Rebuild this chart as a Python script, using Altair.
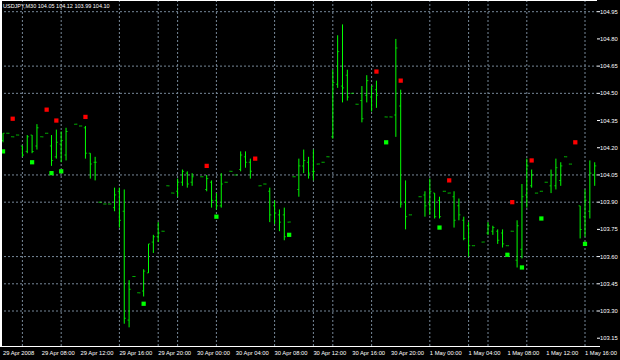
import altair as alt
import pandas as pd

# ---- OHLC bars (bar index, open, high, low, close) ----
bar_index = [0, 1, 2, 3, 4, 5, 6, 7, 8, 9, 10, 11, 12, 13, 15, 16, 17, 18, 19,
             20, 21, 22, 23, 24, 25, 26, 27, 28, 29, 30, 31, 32, 33, 34, 35, 36, 37, 38, 39,
             41, 42, 43, 44, 45, 46, 47, 48, 49, 50, 51, 53, 54, 55, 56, 57, 58, 59,
             60, 61, 62, 63, 64, 65, 66, 67, 68, 69, 70, 71, 72, 73, 74, 75, 76, 77, 79,
             80, 81, 82, 83, 84, 86, 87, 88, 89, 90, 91, 92, 93, 94, 95, 96, 97, 99,
             100, 101, 102, 103, 104, 105, 106, 107, 108, 109, 110, 111, 112, 113, 114, 115, 116, 117, 119,
             120, 121, 122]
bar_open = [104.24, 104.28, 104.26, 104.27, 104.21, 104.18, 104.27, 104.21, 104.26, 104.28, 104.21, 104.15, 104.22, 104.16, 104.33, 104.32, 104.31, 104.17, 104.12,
            103.90, 103.89, 103.89, 103.87, 103.96, 103.85, 103.25, 103.49, 103.40, 103.41, 103.51, 103.68, 103.71, 103.74, 103.99, 103.95, 103.96, 104.01, 104.06, 104.01,
            104.04, 103.97, 104.01, 103.91, 103.88, 104.01, 104.07, 104.05, 104.08, 104.15, 104.12, 103.99, 104.00, 103.96, 103.88, 103.83, 103.83, 103.79,
            104.04, 103.97, 104.10, 104.12, 104.07, 104.11, 104.12, 104.15, 104.26, 104.55, 104.54, 104.60, 104.50, 104.44, 104.46, 104.49, 104.48, 104.52, 104.37,
            104.37, 104.38, 104.43, 103.90, 103.83, 103.93, 103.94, 103.89, 103.95, 103.91, 103.96, 103.95, 103.93, 103.88, 103.80, 103.77, 103.66, 103.68,
            103.73, 103.74, 103.74, 103.73, 103.66, 103.74, 103.58, 103.64, 103.94, 103.99, 103.95, 103.96, 104.01, 103.99, 103.99, 104.02, 104.15, 104.11, 103.88,
            103.82, 103.85, 104.05]
bar_high = [104.28, 104.28, 104.26, 104.27, 104.21, 104.27, 104.27, 104.33, 104.26, 104.28, 104.27, 104.30, 104.29, 104.31, 104.33, 104.32, 104.32, 104.17, 104.15,
            103.90, 103.89, 103.89, 103.98, 103.98, 103.97, 103.47, 103.49, 103.40, 103.53, 103.67, 103.72, 103.79, 103.74, 103.99, 103.95, 104.03, 104.08, 104.07, 104.06,
            104.04, 104.05, 104.02, 103.95, 104.06, 104.01, 104.07, 104.05, 104.18, 104.18, 104.14, 103.99, 104.00, 103.98, 103.91, 103.86, 103.87, 103.79,
            104.04, 104.14, 104.19, 104.15, 104.19, 104.11, 104.12, 104.15, 104.63, 104.82, 104.88, 104.63, 104.50, 104.44, 104.54, 104.60, 104.54, 104.57, 104.37,
            104.37, 104.80, 104.52, 104.02, 103.83, 103.93, 103.96, 104.03, 103.95, 103.93, 103.96, 103.95, 103.96, 103.92, 103.82, 103.79, 103.66, 103.68,
            103.79, 103.77, 103.75, 103.75, 103.66, 103.74, 103.80, 104.00, 104.14, 104.08, 103.95, 103.96, 104.01, 104.08, 104.14, 104.12, 104.15, 104.11, 103.88,
            103.97, 104.13, 104.12]
bar_low = [104.23, 104.28, 104.26, 104.27, 104.15, 104.17, 104.17, 104.19, 104.26, 104.28, 104.10, 104.14, 104.12, 104.13, 104.33, 104.32, 104.14, 104.03, 104.02,
           103.90, 103.89, 103.89, 103.85, 103.76, 103.23, 103.21, 103.49, 103.40, 103.38, 103.51, 103.62, 103.68, 103.74, 103.99, 103.95, 103.93, 103.99, 103.98, 103.99,
           104.04, 103.96, 103.87, 103.86, 103.87, 104.01, 104.07, 104.05, 104.07, 104.09, 104.03, 103.99, 104.00, 103.79, 103.78, 103.74, 103.69, 103.79,
           104.04, 103.93, 104.06, 104.03, 104.02, 104.11, 104.12, 104.15, 104.25, 104.53, 104.45, 104.46, 104.50, 104.44, 104.34, 104.45, 104.40, 104.42, 104.37,
           104.37, 104.26, 103.87, 103.75, 103.83, 103.93, 103.82, 103.83, 103.81, 103.81, 103.96, 103.95, 103.76, 103.80, 103.69, 103.60, 103.66, 103.68,
           103.72, 103.72, 103.67, 103.65, 103.66, 103.74, 103.54, 103.59, 103.87, 103.98, 103.95, 103.96, 104.01, 103.95, 103.97, 103.99, 104.15, 104.11, 103.70,
           103.71, 103.81, 103.99]
bar_close = [104.28, 104.28, 104.26, 104.27, 104.16, 104.26, 104.18, 104.31, 104.26, 104.28, 104.13, 104.23, 104.24, 104.29, 104.33, 104.32, 104.17, 104.11, 104.12,
             103.90, 103.89, 103.89, 103.94, 103.80, 103.26, 103.42, 103.49, 103.40, 103.52, 103.67, 103.71, 103.73, 103.74, 103.99, 103.95, 104.01, 104.07, 104.00, 104.04,
             104.04, 104.03, 103.91, 103.88, 104.00, 104.01, 104.07, 104.05, 104.16, 104.12, 104.07, 103.99, 104.00, 103.83, 103.84, 103.79, 103.71, 103.79,
             104.04, 104.10, 104.13, 104.06, 104.07, 104.11, 104.12, 104.15, 104.56, 104.73, 104.53, 104.48, 104.50, 104.44, 104.36, 104.57, 104.54, 104.49, 104.37,
             104.37, 104.75, 103.89, 103.82, 103.83, 103.93, 103.88, 103.96, 103.82, 103.82, 103.96, 103.95, 103.80, 103.83, 103.70, 103.66, 103.66, 103.68,
             103.77, 103.76, 103.69, 103.67, 103.66, 103.74, 103.77, 103.93, 104.10, 104.05, 103.95, 103.96, 104.01, 104.05, 104.09, 104.10, 104.15, 104.11, 103.75,
             103.91, 104.06, 104.10]

# ---- fractal markers ----
up_index = [2, 9, 11, 17, 42, 52, 77, 82, 92, 105, 109, 118]
up_price = [104.36, 104.41, 104.35, 104.37, 104.10, 104.14, 104.62, 104.57, 104.02, 103.90, 104.13, 104.23]
down_index = [0, 6, 10, 12, 29, 44, 59, 79, 90, 104, 107, 111, 120]
down_price = [104.18, 104.12, 104.06, 104.07, 103.34, 103.82, 103.72, 104.23, 103.76, 103.61, 103.54, 103.81, 103.67]

# ---- axes / grid ----
price_labels = [104.95, 104.80, 104.65, 104.50, 104.35, 104.20, 104.05, 103.90, 103.75, 103.60, 103.45, 103.30, 103.15]
grid_prices = [104.95, 104.65, 104.50, 104.05, 103.90, 103.60, 103.45, 103.30]
grid_index = [4, 12, 24, 32, 36, 44, 56, 64, 68, 76, 88, 96, 100, 108, 120]
time_index = [0, 8, 16, 24, 32, 40, 48, 56, 64, 72, 80, 88, 96, 104, 112, 120]
time_labels = ["29 Apr 2008", "29 Apr 08:00", "29 Apr 12:00", "29 Apr 16:00", "29 Apr 20:00",
               "30 Apr 00:00", "30 Apr 04:00", "30 Apr 08:00", "30 Apr 12:00", "30 Apr 16:00",
               "30 Apr 20:00", "1 May 00:00", "1 May 04:00", "1 May 08:00", "1 May 12:00", "1 May 16:00"]
title_text = "USDJPY,M30  104.05 104.12 103.99 104.10"

W, H = 597, 346
FONT = "Liberation Sans"
GREEN = "#00FF00"
GRID = "#778899"

bars = pd.DataFrame({"i": bar_index, "open": bar_open, "high": bar_high,
                     "low": bar_low, "close": bar_close})
ups = pd.DataFrame({"i": up_index, "price": up_price})
downs = pd.DataFrame({"i": down_index, "price": down_price})
plabels = pd.DataFrame({"price": price_labels})
gprices = pd.DataFrame({"price": grid_prices})
gidx = pd.DataFrame({"i": grid_index})
tlabels = pd.DataFrame({"i": time_index, "label": time_labels})
tdf = pd.DataFrame({"t": [title_text]})

xs = alt.Scale(domain=[-0.6186, 122.474], nice=False, zero=False)
ys = alt.Scale(domain=[103.1071, 105.0145], nice=False, zero=False)

X = lambda f: alt.X(f, type="quantitative", scale=xs, axis=None)
Y = lambda f: alt.Y(f, type="quantitative", scale=ys, axis=None)

hgrid = alt.Chart(gprices).mark_rule(color=GRID, strokeDash=[2, 2], strokeWidth=1).encode(
    y=Y("price"), x=alt.value(0), x2=alt.value(W))
vgrid = alt.Chart(gidx).mark_rule(color=GRID, strokeDash=[2, 2], strokeWidth=1).encode(
    x=X("i"), y=alt.value(0), y2=alt.value(H))

hl = alt.Chart(bars).mark_rule(color=GREEN, strokeWidth=1).encode(
    x=X("i"), y=Y("low"), y2=alt.Y2("high"))
op = alt.Chart(bars).mark_tick(color=GREEN, orient="horizontal", size=1.6, thickness=1, xOffset=-0.8).encode(
    x=X("i"), y=Y("open"))
cl = alt.Chart(bars).mark_tick(color=GREEN, orient="horizontal", size=1.6, thickness=1, xOffset=0.8).encode(
    x=X("i"), y=Y("close"))

upm = alt.Chart(ups).mark_square(color="#FF0000", size=18, opacity=1).encode(x=X("i"), y=Y("price"))
dnm = alt.Chart(downs).mark_square(color=GREEN, size=18, opacity=1).encode(x=X("i"), y=Y("price"))

ylab = alt.Chart(plabels).mark_text(color="white", align="left", baseline="middle",
                                     font=FONT, fontSize=5.8).encode(
    y=Y("price"), x=alt.value(600), text=alt.Text("price:Q", format=".2f"))
ytick = alt.Chart(plabels).mark_rule(color="white", strokeWidth=1).encode(
    y=Y("price"), x=alt.value(W), x2=alt.value(W + 3))

xlab = alt.Chart(tlabels).mark_text(color="white", align="left", baseline="middle",
                                     font=FONT, fontSize=5.8).encode(
    x=X("i"), y=alt.value(353), text="label:N")

frame_top = alt.Chart(tdf).mark_rule(color="white", strokeWidth=1).encode(
    x=alt.value(0), x2=alt.value(W), y=alt.value(0.5))
frame_left = alt.Chart(tdf).mark_rule(color="white", strokeWidth=2).encode(
    x=alt.value(1), y=alt.value(0), y2=alt.value(H))
frame_bottom = alt.Chart(tdf).mark_rule(color="white", strokeWidth=1).encode(
    x=alt.value(0), x2=alt.value(600), y=alt.value(H + 0.5))

title = alt.Chart(tdf).mark_text(color="white", align="left", baseline="middle",
                                  font=FONT, fontSize=5.5).encode(
    x=alt.value(3), y=alt.value(6), text="t:N")

chart = alt.layer(hgrid, vgrid, hl, op, cl, upm, dnm, ylab, ytick, xlab,
                  frame_top, frame_left, frame_bottom, title).properties(
    width=W, height=H, background="black",
    padding={"left": 0, "top": 0, "right": 23, "bottom": 14},
    autosize="none",
).configure_view(stroke=None)

chart.save("out.html", embed_options={"renderer": "svg", "actions": False})
